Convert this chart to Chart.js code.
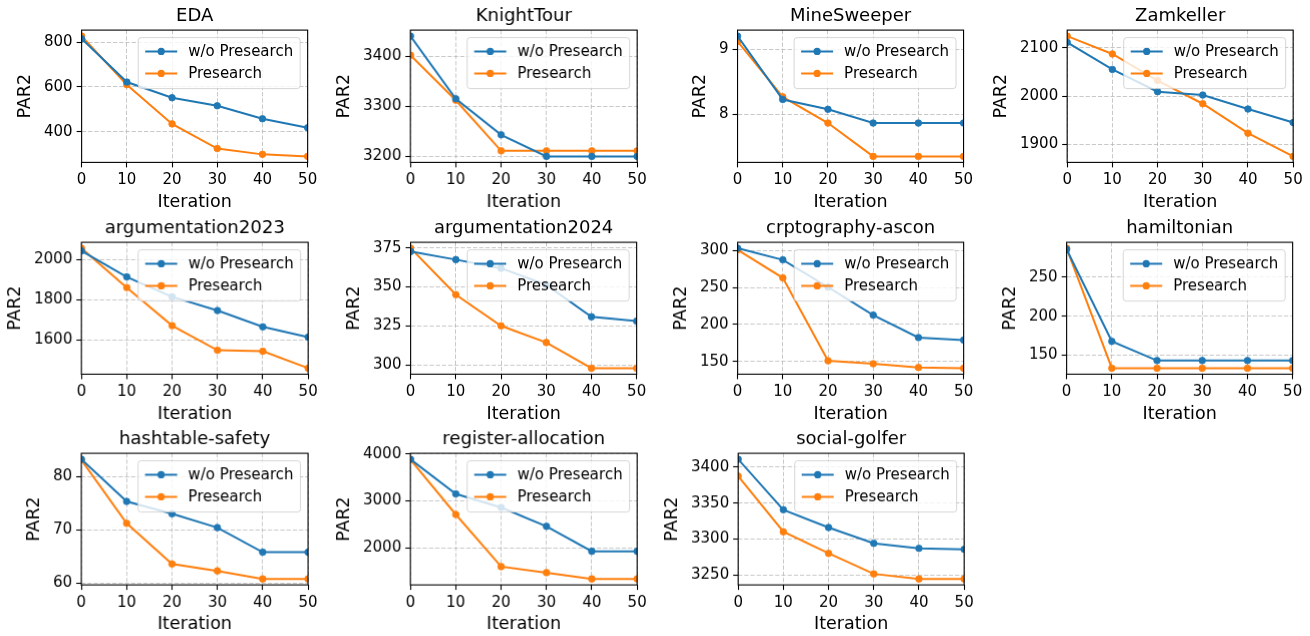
<!DOCTYPE html>
<html>
<head>
<meta charset="utf-8">
<script src="https://cdn.jsdelivr.net/npm/chart.js@4.4.1/dist/chart.umd.min.js"></script>
<style>
  html, body { margin: 0; padding: 0; background: #fff; }
  body { width: 1310px; height: 636px; position: relative; overflow: hidden; }
  .panel { position: absolute; width: 320px; height: 210px; }
</style>
</head>
<body>
<script>
// iterations shared by every panel
const iterations = [0, 10, 20, 30, 40, 50];
const seriesLabels = ['w/o Presearch', 'Presearch'];

// PAR2 values (w/o Presearch, Presearch) and y tick labels
const edaWo = [815, 622, 552, 516, 458, 418];
const edaPre = [827, 610, 435, 325, 299, 290];
const edaTicks = [400, 600, 800];

const knightWo = [3440, 3315, 3243, 3200, 3200, 3200];
const knightPre = [3402, 3312, 3211, 3211, 3211, 3211];
const knightTicks = [3200, 3300, 3400];

const mineWo = [9.2, 8.23, 8.08, 7.87, 7.87, 7.87];
const minePre = [9.12, 8.27, 7.87, 7.36, 7.36, 7.36];
const mineTicks = [8, 9];

const zamWo = [2111, 2055, 2009, 2002, 1973, 1945];
const zamPre = [2124, 2087, 2032, 1984, 1923, 1875];
const zamTicks = [1900, 2000, 2100];

const arg23Wo = [2043, 1914, 1815, 1747, 1666, 1615];
const arg23Pre = [2056, 1861, 1672, 1550, 1545, 1461];
const arg23Ticks = [1600, 1800, 2000];

const arg24Wo = [372.7, 367.5, 362, 351.3, 330.8, 328];
const arg24Pre = [374.8, 345, 325, 314.3, 297.8, 297.8];
const arg24Ticks = [300, 325, 350, 375];

const asconWo = [303, 287.4, 250.5, 212.7, 182.4, 179];
const asconPre = [301, 263, 151, 147, 142, 141];
const asconTicks = [150, 200, 250, 300];

const hamWo = [285.6, 167.8, 143.2, 143.2, 143.2, 143.2];
const hamPre = [287, 133.4, 133.4, 133.4, 133.4, 133.4];
const hamTicks = [150, 200, 250];

const hashWo = [83.2, 75.3, 73, 70.4, 65.8, 65.8];
const hashPre = [83.1, 71.2, 63.6, 62.3, 60.8, 60.8];
const hashTicks = [60, 70, 80];

const regWo = [3887, 3149, 2860, 2455, 1923, 1923];
const regPre = [3880, 2709, 1596, 1468, 1334, 1334];
const regTicks = [2000, 3000, 4000];

const golfWo = [3411, 3340.7, 3316, 3294, 3287, 3285.6];
const golfPre = [3387.5, 3310, 3280, 3251.4, 3244.4, 3244.4];
const golfTicks = [3250, 3300, 3350, 3400];

const panels = [
  ['EDA', edaWo, edaPre, edaTicks],
  ['KnightTour', knightWo, knightPre, knightTicks],
  ['MineSweeper', mineWo, minePre, mineTicks],
  ['Zamkeller', zamWo, zamPre, zamTicks],
  ['argumentation2023', arg23Wo, arg23Pre, arg23Ticks],
  ['argumentation2024', arg24Wo, arg24Pre, arg24Ticks],
  ['crptography-ascon', asconWo, asconPre, asconTicks],
  ['hamiltonian', hamWo, hamPre, hamTicks],
  ['hashtable-safety', hashWo, hashPre, hashTicks],
  ['register-allocation', regWo, regPre, regTicks],
  ['social-golfer', golfWo, golfPre, golfTicks],
];

// layout of the plot areas (px)
const colLeft = [81.3, 410.3, 737.7, 1066.7];
const rowTop = [29.7, 242, 453.3];
const rowHeight = [132.3, 131.3, 131];
const plotWidth = 226;

const BLUE = '#1f77b4', ORANGE = '#ff7f0e';
const FONT = "'DejaVu Sans', sans-serif";
Chart.defaults.font.family = FONT;
Chart.defaults.color = '#000';

// frame around the axes + matplotlib style legend box on top of the lines
const framePlugin = {
  id: 'frameLegend',
  afterDatasetsDraw(chart) {
    const {ctx, chartArea: a} = chart;
    ctx.save();
    ctx.strokeStyle = '#000';
    ctx.lineWidth = 1.1;
    ctx.strokeRect(a.left, a.top, a.right - a.left, a.bottom - a.top);

    // legend
    ctx.font = '15px ' + FONT;
    const sets = chart.data.datasets;
    const textW = Math.max(...sets.map(d => ctx.measureText(d.label).width));
    const pad = 7, handle = 32, gap = 11, rowH = 22;
    const w = pad + handle + gap + textW + pad;
    const h = 51;
    const x = a.right - 7.5 - w, y = a.top + 7.5;
    ctx.beginPath();
    if (ctx.roundRect) ctx.roundRect(x, y, w, h, 3); else ctx.rect(x, y, w, h);
    ctx.fillStyle = 'rgba(255,255,255,0.8)';
    ctx.fill();
    ctx.strokeStyle = 'rgba(204,204,204,0.8)';
    ctx.lineWidth = 1;
    ctx.stroke();
    sets.forEach((d, i) => {
      const cy = y + 13.8 + i * rowH;
      ctx.strokeStyle = d.borderColor;
      ctx.lineWidth = 2;
      ctx.beginPath();
      ctx.moveTo(x + pad, cy);
      ctx.lineTo(x + pad + handle, cy);
      ctx.stroke();
      ctx.fillStyle = d.borderColor;
      ctx.beginPath();
      ctx.arc(x + pad + handle / 2, cy, 3.6, 0, Math.PI * 2);
      ctx.fill();
      ctx.fillStyle = '#000';
      ctx.textBaseline = 'middle';
      ctx.textAlign = 'left';
      ctx.fillText(d.label, x + pad + handle + gap, cy + 1);
    });
    ctx.restore();
  }
};

function makeDataset(label, values, color) {
  return {
    label,
    data: iterations.map((it, i) => ({x: it, y: values[i]})),
    borderColor: color,
    backgroundColor: color,
    pointBackgroundColor: color,
    pointBorderColor: color,
    borderWidth: 2,
    pointRadius: 3.3,
    pointBorderWidth: 0.8,
    tension: 0,
    clip: 0,
  };
}

const gridStyle = {
  color: 'rgba(176,176,176,0.7)',
  lineWidth: 1,
  tickColor: '#000',
  tickLength: 5,
  tickWidth: 1.1,
};

panels.forEach(([title, wo, pre, ticks], idx) => {
  const col = idx % 4, row = Math.floor(idx / 4);
  const div = document.createElement('div');
  div.className = 'panel';
  const canvas = document.createElement('canvas');
  div.appendChild(canvas);
  document.body.appendChild(div);

  // matplotlib style autoscale: 5% margin around the data
  const all = wo.concat(pre);
  const lo = Math.min(...all), hi = Math.max(...all);
  const m = (hi - lo) * 0.05;

  const chart = new Chart(canvas, {
    type: 'line',
    data: {
      datasets: [makeDataset(seriesLabels[0], wo, BLUE), makeDataset(seriesLabels[1], pre, ORANGE)]
    },
    options: {
      responsive: true,
      maintainAspectRatio: false,
      animation: false,
      events: [],
      layout: {padding: {left: 0, right: 0, top: 0, bottom: 0}},
      plugins: {
        legend: {display: false},
        tooltip: {enabled: false},
        title: {
          display: true, text: title, color: '#000', fullSize: false,
          font: {size: 18, weight: 'normal'},
          padding: {top: 4, bottom: 2.5}
        }
      },
      scales: {
        x: {
          type: 'linear', min: 0, max: 50,
          grid: gridStyle,
          border: {display: false, dash: [4.3, 1.9]},
          ticks: {stepSize: 10, font: {size: 15}, padding: 4, maxRotation: 0},
          title: {display: true, text: 'Iteration', font: {size: 17.5, lineHeight: 1.0}, padding: {top: 0, bottom: 0}}
        },
        y: {
          type: 'linear', min: lo - m, max: hi + m,
          grid: gridStyle,
          border: {display: false, dash: [4.3, 1.9]},
          afterBuildTicks: s => { s.ticks = ticks.map(v => ({value: v})); },
          ticks: {font: {size: 15}, padding: 4, callback: v => String(v)},
          title: {display: true, text: 'PAR2', font: {size: 17.5}, padding: {top: 0, bottom: 4}}
        }
      }
    },
    plugins: [framePlugin]
  });

  // shift/resize the canvas so the plot area lands on the grid of the figure
  for (let k = 0; k < 2; k++) {
    const a = chart.chartArea;
    const l = a.left, t = a.top, r = chart.width - a.right, b = chart.height - a.bottom;
    div.style.left = (colLeft[col] - l) + 'px';
    div.style.top = (rowTop[row] - t) + 'px';
    div.style.width = (l + plotWidth + r) + 'px';
    div.style.height = (t + rowHeight[row] + b) + 'px';
    chart.resize();
  }
});
</script>
</body>
</html>
